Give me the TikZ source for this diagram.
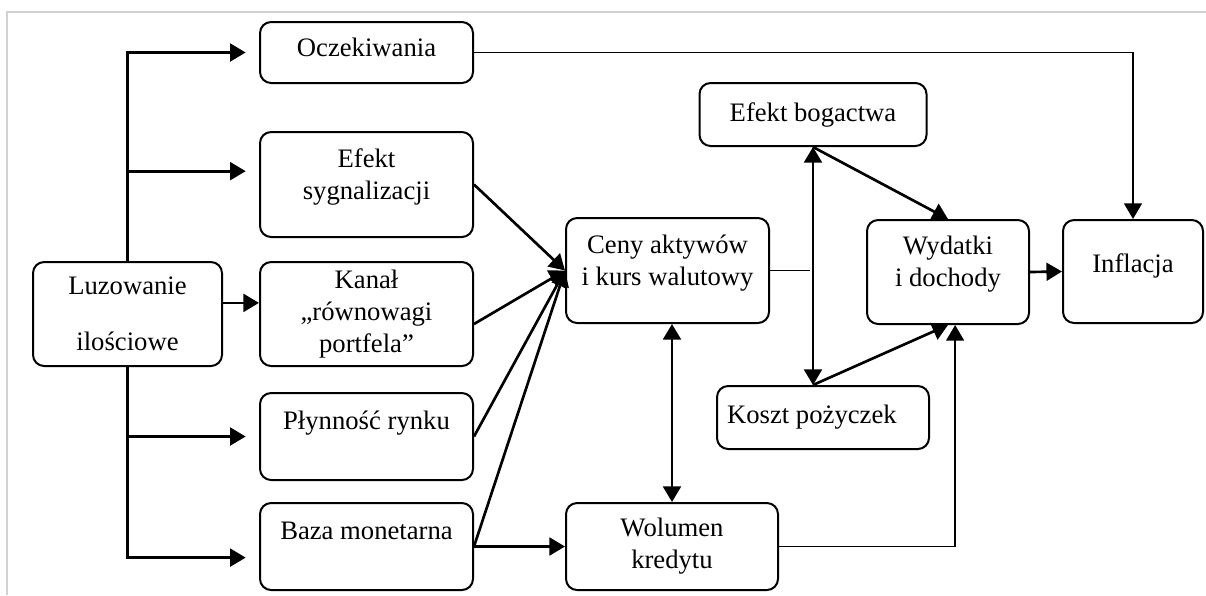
\documentclass[tikz,border=0pt]{standalone}
\usepackage{fontspec}
\setmainfont{Liberation Serif}
\usetikzlibrary{arrows.meta}
\tikzset{box/.style={draw, rounded corners=5pt, line width=0.9pt, align=center, inner sep=2pt, font=\fontsize{12pt}{14.4pt}\selectfont},
  wh/.style 2 args={minimum width=#1*0.45pt, minimum height=#2*0.45pt},
  arr/.style={->, line width=1.2pt},
  link/.style={line width=0.8pt}}

\begin{document}
\begin{tikzpicture}[x=0.45pt, y=-0.45pt, >={Triangle[length=7pt,width=8pt]}]
\useasboundingbox (0,0) rectangle (1206,595);
\draw[gray!35, line width=1pt] (7,595) -- (7,12) -- (1206,12);

% nodes
\node[box, wh={189}{104}] (lqe) at (127.5,314) {Luzowanie\\[11pt]ilościowe};
\node[box, wh={213}{61}] (oczek) at (366.5,52.5) {Oczekiwania\\[-10pt]~};
\node[box, wh={213}{105}] (sygn) at (366.5,184.5) {Efekt\\sygnalizacji\\[-5pt]~};
\node[box, wh={213}{104}] (kanal) at (366.5,314) {Kanał\\„równowagi\\portfela”};
\node[box, wh={213}{87}] (plyn) at (366.5,436.5) {Płynność rynku\\~};
\node[box, wh={213}{87}] (baza) at (366.5,546.5) {Baza monetarna\\~};
\node[box, wh={203}{105}] (ceny) at (667.5,270.5) {Ceny aktywów\\i kurs walutowy\\[-5pt]~};
\node[box, wh={212}{87}] (wolumen) at (672,546.5) {Wolumen\\kredytu};
\node[box, wh={227}{63}] (bogactwo) at (813,114.5) {Efekt bogactwa};
\node[box, wh={212}{63}] (koszt) at (823,417.5) {Koszt pożyczek\hspace{10pt}};
\node[box, wh={162}{104}] (wydatki) at (948,272) {Wydatki\\i dochody\\[-5pt]~};
\node[box, wh={140}{103}] (inflacja) at (1133,271.5) {Inflacja\\[-7pt]~};

% edges
\draw[arr, shorten >=6pt] (lqe.north) |- (oczek.west);
\draw[arr, shorten >=6pt] (lqe.north) |- ([yshift=6pt]sygn.west);
\draw[arr] ([yshift=5pt]lqe.east) -- ([yshift=5pt]kanal.west);
\draw[arr, shorten >=6pt] (lqe.south) |- (plyn.west);
\draw[arr, shorten >=6pt] (lqe.south) |- ([yshift=-5pt]baza.west);
\draw[arr] (sygn.east) -- (ceny.west);
\draw[arr] ([yshift=-4.5pt]kanal.east) -- (ceny.west);
\draw[arr] (plyn.east) -- (ceny.west);
\draw[arr] (baza.east) -- (ceny.west);
\draw[arr] (baza.east) -- (wolumen.west);
\draw[arr, <->] (ceny.south -| wolumen.north) -- (wolumen.north);
\draw[link, shorten >=1.5pt] (ceny.east) -- (ceny.east -| bogactwo.south);
\draw[arr, <->] (bogactwo.south) -- (bogactwo.south |- koszt.north);
\draw[arr] (bogactwo.south) -- (wydatki.north);
\draw[arr] (bogactwo.south |- koszt.north) -- (wydatki.south);
\draw[link, ->] (wolumen.east) -| ([xshift=3.2pt]wydatki.south);
\draw[arr] (wydatki.east) -- (inflacja.west);
\draw[link, ->] (oczek.east) -| (inflacja.north);
\end{tikzpicture}
\end{document}
